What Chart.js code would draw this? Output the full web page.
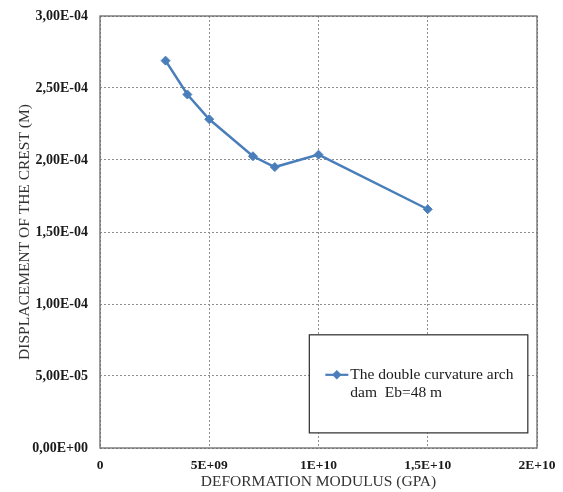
<!DOCTYPE html>
<html>
<head>
<meta charset="utf-8">
<script src="https://cdn.jsdelivr.net/npm/chart.js@4/dist/chart.umd.min.js"></script>
<style>
  html, body { margin: 0; padding: 0; background: #ffffff; }
  canvas { display: block; }
</style>
</head>
<body>
<canvas id="chart" width="563" height="492"></canvas>
<script>
// Deformation modulus (Pa) vs. crest displacement (m)
const modulus = [3e9, 4e9, 5e9, 7e9, 8e9, 1e10, 1.5e10];
const displacement = [2.69e-4, 2.455e-4, 2.283e-4, 2.026e-4, 1.951e-4, 2.037e-4, 1.658e-4];
const seriesLabel = 'The double curvature arch dam  Eb=48 m';

const xTickValues = [0, 5e9, 1e10, 1.5e10, 2e10];
const xTickLabels = ['0', '5E+09', '1E+10', '1,5E+10', '2E+10'];
const yTickValues = [0, 5e-5, 1e-4, 1.5e-4, 2e-4, 2.5e-4, 3e-4];
const yTickLabels = ['0,00E+00', '5,00E-05', '1,00E-04', '1,50E-04', '2,00E-04', '2,50E-04', '3,00E-04'];

const xTitle = 'DEFORMATION MODULUS (GPA)';
const yTitle = 'DISPLACEMENT OF THE CREST (M)';

const SERIF = "'Liberation Serif', 'Times New Roman', serif";
const LINE_COLOR = '#4a7ebb';

// Frame around the plot area
const frame = {
  id: 'frame',
  beforeDatasetsDraw(chart) {
    const { ctx, chartArea: a } = chart;
    ctx.save();
    ctx.strokeStyle = '#6a6a6a';
    ctx.lineWidth = 1.3;
    ctx.strokeRect(a.left, a.top, a.right - a.left, a.bottom - a.top);
    ctx.restore();
  }
};

// Boxed legend placed inside the plot, lower right
const boxLegend = {
  id: 'boxLegend',
  afterDraw(chart) {
    const { ctx, chartArea: a } = chart;
    const ds = chart.data.datasets[0];
    const bx = a.left + (a.right - a.left) * 0.479;
    const by = a.top + (a.bottom - a.top) * 0.738;
    const bw = (a.right - a.left) * 0.5;
    const bh = (a.bottom - a.top) * 0.227;
    ctx.save();
    ctx.fillStyle = '#ffffff';
    ctx.fillRect(bx, by, bw, bh);
    ctx.strokeStyle = '#2b2b2b';
    ctx.lineWidth = 1.2;
    ctx.strokeRect(bx, by, bw, bh);

    const lineY = by + 40;
    const sx = bx + 16;
    ctx.strokeStyle = ds.borderColor;
    ctx.lineWidth = 2.2;
    ctx.beginPath();
    ctx.moveTo(sx, lineY);
    ctx.lineTo(sx + 23, lineY);
    ctx.stroke();
    Chart.helpers.drawPoint(ctx, { pointStyle: 'rectRot', radius: 3.2, borderWidth: 1 }, sx + 11.5, lineY);
    ctx.fillStyle = ds.borderColor;
    ctx.fill();

    ctx.font = '15.5px ' + SERIF;
    ctx.fillStyle = '#1a1a1a';
    ctx.textBaseline = 'middle';
    const tx = sx + 25;
    const maxW = bx + bw - tx - 8;
    const words = ds.label.split(' ');
    const lines = [];
    let cur = '';
    for (const w of words) {
      const test = cur === '' ? w : cur + ' ' + w;
      if (cur !== '' && ctx.measureText(test).width > maxW) {
        lines.push(cur);
        cur = w;
      } else {
        cur = test;
      }
    }
    lines.push(cur);
    lines.forEach((l, i) => ctx.fillText(l, tx, lineY + i * 18));
    ctx.restore();
  }
};

new Chart(document.getElementById('chart'), {
  type: 'scatter',
  data: {
    datasets: [{
      label: seriesLabel,
      data: modulus.map((m, i) => ({ x: m, y: displacement[i] })),
      showLine: true,
      borderColor: LINE_COLOR,
      backgroundColor: LINE_COLOR,
      borderWidth: 2.5,
      pointStyle: 'rectRot',
      pointRadius: 4.5,
      pointBorderWidth: 1,
      tension: 0
    }]
  },
  options: {
    responsive: false,
    animation: false,
    layout: { padding: { top: 16, right: 26, left: 0, bottom: 0 } },
    plugins: {
      legend: { display: false },
      tooltip: { enabled: false }
    },
    scales: {
      x: {
        type: 'linear',
        min: 0,
        max: 2e10,
        afterBuildTicks(scale) { scale.ticks = xTickValues.map(v => ({ value: v })); },
        afterFit(scale) {
          scale.height = 44;
          scale.paddingLeft = 0;
          scale.paddingRight = 0;
        },
        grid: { color: '#8e8e8e', lineWidth: 1, drawTicks: false },
        border: { display: false, dash: [2, 2] },
        ticks: {
          padding: 9,
          maxRotation: 0,
          color: '#1a1a1a',
          font: { family: SERIF, size: 13.5, weight: 'bold' },
          callback(value, index) { return xTickLabels[index]; }
        },
        title: {
          display: true,
          text: xTitle,
          color: '#333333',
          font: { family: SERIF, size: 15.5 },
          padding: { top: 0, bottom: 1 }
        }
      },
      y: {
        type: 'linear',
        min: 0,
        max: 3e-4,
        afterBuildTicks(scale) { scale.ticks = yTickValues.map(v => ({ value: v })); },
        afterFit(scale) {
          scale.width = 100;
          scale.paddingTop = 0;
          scale.paddingBottom = 0;
        },
        grid: { color: '#8e8e8e', lineWidth: 1, drawTicks: false },
        border: { display: false, dash: [2, 2] },
        ticks: {
          padding: 12,
          color: '#1a1a1a',
          font: { family: SERIF, size: 14, weight: 'bold' },
          callback(value, index) { return yTickLabels[index]; }
        },
        title: {
          display: true,
          text: yTitle,
          color: '#333333',
          font: { family: SERIF, size: 15.5 },
          padding: { top: 16, bottom: 0 }
        }
      }
    }
  },
  plugins: [frame, boxLegend]
});
</script>
</body>
</html>
